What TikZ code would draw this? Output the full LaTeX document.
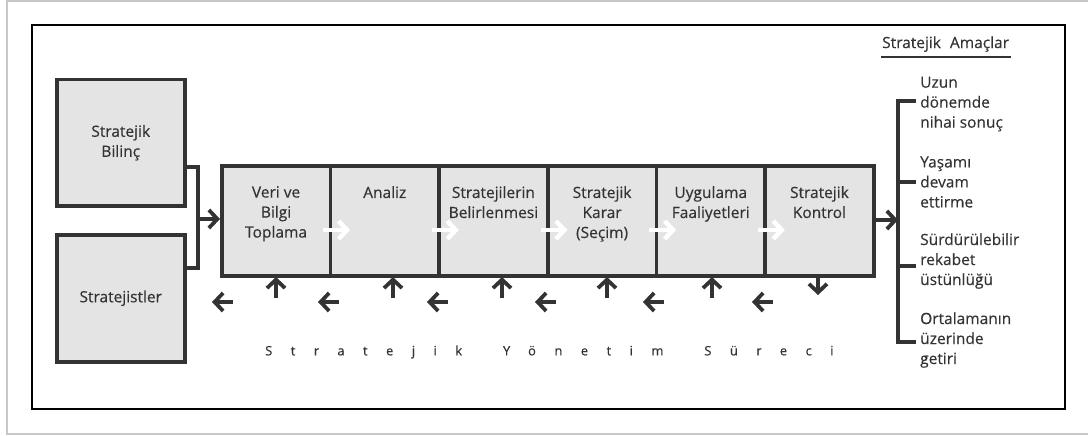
\documentclass[tikz,border=0pt]{standalone}
\usepackage{fontspec}
\setmainfont{Open Sans}
\newfontfamily\labelfont{Open Sans}[FakeBold=0.35]
\usetikzlibrary{arrows.meta}
\definecolor{ink}{HTML}{333333}
\definecolor{boxfill}{HTML}{E4E4E4}
\definecolor{outerframe}{HTML}{C8C8C8}

\begin{document}
\begin{tikzpicture}[x=1pt,y=-1pt,
  box/.style={draw=ink, line width=3.5pt, fill=boxfill, inner sep=0pt},
  lbl/.style={font=\labelfont\fontsize{15.5}{20}\selectfont, text=ink, align=center, inner sep=0pt},
  goal/.style={font=\labelfont\fontsize{15.5}{20}\selectfont, text=ink, align=left, inner sep=0pt, anchor=west},
  flow/.style={draw=ink, line width=3.8pt, -{Straight Barb[length=8.5pt,width=18pt]}},
  pass/.style={draw=white, line width=4.5pt, -{Straight Barb[length=8.5pt,width=18pt]}},
  wire/.style={draw=ink, line width=3.5pt}
]
\useasboundingbox (0,0) rectangle (1088,436);

% frames
\draw[outerframe, line width=1.5pt] (7,1) rectangle (1100,434);
\draw[black, line width=1.6pt] (32,25) rectangle (1065,409);

% input boxes
\node[box, lbl, minimum width=128pt, minimum height=126pt, anchor=north west]
  (bilinc) at (55,78) {Stratejik\\Bilinç};
\node[box, lbl, minimum width=128pt, minimum height=127pt, anchor=north west]
  (strategists) at (55,233) {Stratejistler};

% process cells
\foreach \i/\name in {0/veri,1/analiz,2/belir,3/karar,4/uygul,5/kontrol}{
  \node[box, minimum width=108.67pt, minimum height=110pt, anchor=north west]
    (\name) at ({220+\i*108.67},164) {};
}
\node[lbl, anchor=north] (tveri)    at (veri.center |- 0,186)    {Veri ve\\Bilgi\\Toplama};
\node[lbl, anchor=north] (tanaliz)  at (analiz.center |- 0,186)  {Analiz};
\node[lbl, anchor=north] (tbelir)   at (belir.center |- 0,186)   {Stratejilerin\\Belirlenmesi};
\node[lbl, anchor=north] (tkarar)   at (karar.center |- 0,186)   {Stratejik\\Karar\\(Seçim)};
\node[lbl, anchor=north] (tuygul)   at (uygul.center |- 0,186)   {Uygulama\\Faaliyetleri};
\node[lbl, anchor=north] (tkontrol) at (kontrol.center |- 0,186) {Stratejik\\Kontrol};

% joining the two inputs into the process
\coordinate (jtop) at (198,167);
\coordinate (jbot) at (198,268);
\coordinate (jmid) at (198,219);
\draw[wire] (bilinc.east |- jtop) -- (jtop) -- (jbot) -- (strategists.east |- jbot);
\draw[flow] (jmid) -- (veri.west |- jmid);

% white arrows across the dividers
\foreach \a/\b in {veri/analiz,analiz/belir,belir/karar,karar/uygul,uygul/kontrol}{
  \coordinate (p) at ([xshift=-9pt]\a.east |- 0,230);
  \draw[pass] (p) -- ++(27,0);
}

% feedback arrows below the process
\foreach \x in {276,393,502,607,712}{
  \coordinate (ub) at (\x,298);
  \coordinate (ut) at (\x,277);
  \draw[flow] (ub) -- (ut);
}
\coordinate (db) at (818,275);
\coordinate (dt) at (818,295);
\draw[flow] (db) -- (dt);
\foreach \x in {212,318,427,535,643,752}{
  \coordinate (lr) at (\x+21,302);
  \coordinate (ll) at (\x,302);
  \draw[flow] (lr) -- (ll);
}

\node[inner sep=0pt, anchor=west, text=ink,
  font=\labelfont\fontsize{13}{15}\selectfont\addfontfeature{LetterSpace=142}]
  (process) at (265,352) {Stratejik\hspace{19pt} Yönetim\hspace{19pt} Süreci};

% strategic goals
\node[lbl, anchor=south west] (gtitle) at (882,52) {Stratejik\hspace{9pt}Amaçlar};
\draw[ink, line width=1.3pt] ([xshift=-1pt]gtitle.south west |- 0,57) -- ([xshift=2pt]gtitle.south east |- 0,57);

\coordinate (btop) at (898,101);
\coordinate (bbot) at (898,342);
\coordinate (bmid) at (898,220);
\draw[flow] (kontrol.east |- bmid) -- (bmid);
\draw[wire] (916,101) -- (btop) -- (bbot) -- (916,342);
\draw[wire] (898,182) -- (916,182);
\draw[wire] (898,266) -- (916,266);

\node[goal] (g1) at (920,104) {Uzun\\dönemde\\nihai sonuç};
\node[goal] (g2) at (920,182) {Yaşamı\\devam\\ettirme};
\node[goal] (g3) at (920,261) {Sürdürülebilir\\rekabet\\üstünlüğü};
\node[goal] (g4) at (920,340) {Ortalamanın\\üzerinde\\getiri};
\end{tikzpicture}
\end{document}
